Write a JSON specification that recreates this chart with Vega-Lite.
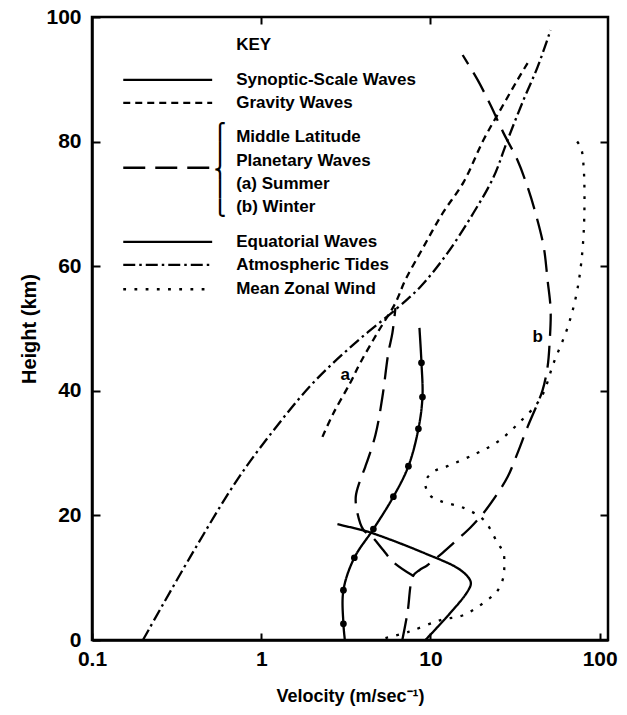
{
  "$schema": "https://vega.github.io/schema/vega-lite/v6.json",
  "width": 516,
  "height": 623,
  "autosize": "none",
  "padding": {"left": 92, "top": 17, "right": 19, "bottom": 75},
  "background": "white",
  "config": {
    "view": {"stroke": "black", "strokeWidth": 2.5},
    "font": "Liberation Sans",
    "axis": {
      "grid": false,
      "domainColor": "black",
      "domainWidth": 2.5,
      "tickColor": "black",
      "tickWidth": 2,
      "labelColor": "black",
      "titleColor": "black",
      "labelFont": "Liberation Sans",
      "labelFontWeight": "bold",
      "labelFontSize": 21,
      "titleFont": "Liberation Sans",
      "titleFontWeight": "bold",
      "titleFontSize": 18
    }
  },
  "datasets": {
    "curves": [
      {"s": "Synoptic-Scale Waves", "v": 2.82, "h": 18.6},
      {"s": "Synoptic-Scale Waves", "v": 3.85, "h": 17.7},
      {"s": "Synoptic-Scale Waves", "v": 4.48, "h": 17.2},
      {"s": "Synoptic-Scale Waves", "v": 9.1, "h": 14.0},
      {"s": "Synoptic-Scale Waves", "v": 15.1, "h": 11.2},
      {"s": "Synoptic-Scale Waves", "v": 17.3, "h": 9.3},
      {"s": "Synoptic-Scale Waves", "v": 16.5, "h": 7.7},
      {"s": "Synoptic-Scale Waves", "v": 9.34, "h": 0},

      {"s": "Gravity Waves", "v": 2.30, "h": 32.6},
      {"s": "Gravity Waves", "v": 2.67, "h": 36.4},
      {"s": "Gravity Waves", "v": 3.36, "h": 41.3},
      {"s": "Gravity Waves", "v": 3.85, "h": 44.5},
      {"s": "Gravity Waves", "v": 4.86, "h": 49.3},
      {"s": "Gravity Waves", "v": 6.21, "h": 54.1},
      {"s": "Gravity Waves", "v": 7.11, "h": 57.8},
      {"s": "Gravity Waves", "v": 9.10, "h": 63.1},
      {"s": "Gravity Waves", "v": 11.8, "h": 68.5},
      {"s": "Gravity Waves", "v": 15.7, "h": 73.5},
      {"s": "Gravity Waves", "v": 20.6, "h": 80.3},
      {"s": "Gravity Waves", "v": 25.9, "h": 85.1},
      {"s": "Gravity Waves", "v": 32.7, "h": 89.9},
      {"s": "Gravity Waves", "v": 37.5, "h": 92.6},

      {"s": "Planetary Waves (a) Summer", "v": 7.9, "h": 10.3},
      {"s": "Planetary Waves (a) Summer", "v": 6.04, "h": 12.5},
      {"s": "Planetary Waves (a) Summer", "v": 5.27, "h": 14.4},
      {"s": "Planetary Waves (a) Summer", "v": 4.54, "h": 16.5},
      {"s": "Planetary Waves (a) Summer", "v": 4.01, "h": 17.7},
      {"s": "Planetary Waves (a) Summer", "v": 3.70, "h": 20.4},
      {"s": "Planetary Waves (a) Summer", "v": 3.62, "h": 23.0},
      {"s": "Planetary Waves (a) Summer", "v": 3.85, "h": 25.7},
      {"s": "Planetary Waves (a) Summer", "v": 4.12, "h": 27.8},
      {"s": "Planetary Waves (a) Summer", "v": 4.73, "h": 32.9},
      {"s": "Planetary Waves (a) Summer", "v": 5.20, "h": 39.0},
      {"s": "Planetary Waves (a) Summer", "v": 5.64, "h": 46.1},
      {"s": "Planetary Waves (a) Summer", "v": 5.96, "h": 49.3},
      {"s": "Planetary Waves (a) Summer", "v": 6.21, "h": 53.3},

      {"s": "Planetary Waves (b) Winter", "v": 6.82, "h": 0},
      {"s": "Planetary Waves (b) Winter", "v": 7.31, "h": 4.3},
      {"s": "Planetary Waves (b) Winter", "v": 7.9, "h": 10.3},
      {"s": "Planetary Waves (b) Winter", "v": 8.6, "h": 11.2},
      {"s": "Planetary Waves (b) Winter", "v": 9.6, "h": 12.0},
      {"s": "Planetary Waves (b) Winter", "v": 11.8, "h": 14.0},
      {"s": "Planetary Waves (b) Winter", "v": 14.4, "h": 16.1},
      {"s": "Planetary Waves (b) Winter", "v": 17.3, "h": 18.1},
      {"s": "Planetary Waves (b) Winter", "v": 20.6, "h": 20.4},
      {"s": "Planetary Waves (b) Winter", "v": 24.2, "h": 23.0},
      {"s": "Planetary Waves (b) Winter", "v": 28.6, "h": 26.2},
      {"s": "Planetary Waves (b) Winter", "v": 32.7, "h": 30.0},
      {"s": "Planetary Waves (b) Winter", "v": 37.5, "h": 34.2},
      {"s": "Planetary Waves (b) Winter", "v": 43.0, "h": 38.0},
      {"s": "Planetary Waves (b) Winter", "v": 46.0, "h": 40.1},
      {"s": "Planetary Waves (b) Winter", "v": 49.2, "h": 43.8},
      {"s": "Planetary Waves (b) Winter", "v": 50.6, "h": 47.7},
      {"s": "Planetary Waves (b) Winter", "v": 51.3, "h": 53.0},
      {"s": "Planetary Waves (b) Winter", "v": 49.2, "h": 57.8},
      {"s": "Planetary Waves (b) Winter", "v": 46.7, "h": 63.1},
      {"s": "Planetary Waves (b) Winter", "v": 41.8, "h": 68.5},
      {"s": "Planetary Waves (b) Winter", "v": 37.5, "h": 72.7},
      {"s": "Planetary Waves (b) Winter", "v": 32.7, "h": 77.0},
      {"s": "Planetary Waves (b) Winter", "v": 27.0, "h": 81.4},
      {"s": "Planetary Waves (b) Winter", "v": 22.6, "h": 85.9},
      {"s": "Planetary Waves (b) Winter", "v": 19.0, "h": 89.9},
      {"s": "Planetary Waves (b) Winter", "v": 15.5, "h": 93.9},

      {"s": "Equatorial Waves", "v": 3.12, "h": 0},
      {"s": "Equatorial Waves", "v": 3.06, "h": 2.6},
      {"s": "Equatorial Waves", "v": 3.06, "h": 8.0},
      {"s": "Equatorial Waves", "v": 3.55, "h": 13.2},
      {"s": "Equatorial Waves", "v": 4.60, "h": 17.8},
      {"s": "Equatorial Waves", "v": 6.04, "h": 23.0},
      {"s": "Equatorial Waves", "v": 7.41, "h": 27.9},
      {"s": "Equatorial Waves", "v": 8.49, "h": 33.9},
      {"s": "Equatorial Waves", "v": 8.97, "h": 39.0},
      {"s": "Equatorial Waves", "v": 8.85, "h": 44.5},
      {"s": "Equatorial Waves", "v": 8.61, "h": 50.1},

      {"s": "Atmospheric Tides", "v": 0.200, "h": 0},
      {"s": "Atmospheric Tides", "v": 0.380, "h": 13.3},
      {"s": "Atmospheric Tides", "v": 0.721, "h": 25.7},
      {"s": "Atmospheric Tides", "v": 1.21, "h": 34.0},
      {"s": "Atmospheric Tides", "v": 2.03, "h": 41.3},
      {"s": "Atmospheric Tides", "v": 3.60, "h": 47.7},
      {"s": "Atmospheric Tides", "v": 6.38, "h": 53.3},
      {"s": "Atmospheric Tides", "v": 8.73, "h": 56.7},
      {"s": "Atmospheric Tides", "v": 12.6, "h": 62.1},
      {"s": "Atmospheric Tides", "v": 17.9, "h": 68.5},
      {"s": "Atmospheric Tides", "v": 23.6, "h": 74.3},
      {"s": "Atmospheric Tides", "v": 28.6, "h": 80.3},
      {"s": "Atmospheric Tides", "v": 35.5, "h": 86.7},
      {"s": "Atmospheric Tides", "v": 43.0, "h": 92.0},
      {"s": "Atmospheric Tides", "v": 51.3, "h": 97.9},

      {"s": "Mean Zonal Wind", "v": 5.42, "h": 0.3},
      {"s": "Mean Zonal Wind", "v": 7.41, "h": 1.3},
      {"s": "Mean Zonal Wind", "v": 11.5, "h": 3.2},
      {"s": "Mean Zonal Wind", "v": 15.7, "h": 4.0},
      {"s": "Mean Zonal Wind", "v": 21.4, "h": 6.3},
      {"s": "Mean Zonal Wind", "v": 24.9, "h": 7.9},
      {"s": "Mean Zonal Wind", "v": 27.0, "h": 10.1},
      {"s": "Mean Zonal Wind", "v": 27.3, "h": 12.0},
      {"s": "Mean Zonal Wind", "v": 27.0, "h": 14.0},
      {"s": "Mean Zonal Wind", "v": 24.9, "h": 15.6},
      {"s": "Mean Zonal Wind", "v": 20.6, "h": 19.3},
      {"s": "Mean Zonal Wind", "v": 15.7, "h": 21.2},
      {"s": "Mean Zonal Wind", "v": 11.5, "h": 22.3},
      {"s": "Mean Zonal Wind", "v": 9.86, "h": 23.3},
      {"s": "Mean Zonal Wind", "v": 9.34, "h": 25.4},
      {"s": "Mean Zonal Wind", "v": 10.4, "h": 27.0},
      {"s": "Mean Zonal Wind", "v": 12.6, "h": 27.9},
      {"s": "Mean Zonal Wind", "v": 18.5, "h": 29.9},
      {"s": "Mean Zonal Wind", "v": 24.9, "h": 31.8},
      {"s": "Mean Zonal Wind", "v": 33.2, "h": 34.8},
      {"s": "Mean Zonal Wind", "v": 44.8, "h": 38.8},
      {"s": "Mean Zonal Wind", "v": 53.5, "h": 44.5},
      {"s": "Mean Zonal Wind", "v": 64.7, "h": 50.2},
      {"s": "Mean Zonal Wind", "v": 74.1, "h": 56.5},
      {"s": "Mean Zonal Wind", "v": 80.4, "h": 65.3},
      {"s": "Mean Zonal Wind", "v": 80.4, "h": 75.9},
      {"s": "Mean Zonal Wind", "v": 77.2, "h": 79.1},
      {"s": "Mean Zonal Wind", "v": 70.2, "h": 80.7}
    ],
    "keyLines": [
      {"s": "Synoptic-Scale Waves", "y": 89.9},
      {"s": "Gravity Waves", "y": 86.2},
      {"s": "Planetary Waves (a) Summer", "y": 75.8},
      {"s": "Equatorial Waves", "y": 63.9},
      {"s": "Atmospheric Tides", "y": 60.2},
      {"s": "Mean Zonal Wind", "y": 56.3}
    ],
    "keyText": [
      {"t": "KEY", "y": 95.5},
      {"t": "Synoptic-Scale Waves", "y": 89.9},
      {"t": "Gravity Waves", "y": 86.2},
      {"t": "Middle Latitude", "y": 80.7},
      {"t": "Planetary Waves", "y": 76.9},
      {"t": "(a) Summer", "y": 73.2},
      {"t": "(b) Winter", "y": 69.5},
      {"t": "Equatorial Waves", "y": 63.9},
      {"t": "Atmospheric Tides", "y": 60.2},
      {"t": "Mean Zonal Wind", "y": 56.3}
    ],
    "tags": [
      {"t": "a", "v": 3.14, "h": 42.5},
      {"t": "b", "v": 43.0, "h": 48.6}
    ]
  },
  "layer": [
    {
      "data": {"name": "curves"},
      "mark": {"type": "line", "interpolate": "catmull-rom", "color": "black", "strokeWidth": 2.3},
      "encoding": {
        "x": {
          "field": "v", "type": "quantitative",
          "scale": {"type": "log", "domain": [0.1, 112], "nice": false},
          "axis": {"orient": "bottom", "values": [0.1, 1, 10, 100], "format": "~g", "tickSize": -7, "labelPadding": 15, "title": "Velocity (m/sec⁻¹)", "titlePadding": 18, "labelFlush": false, "labelOverlap": false}
        },
        "y": {
          "field": "h", "type": "quantitative",
          "scale": {"domain": [0, 100], "nice": false, "zero": false},
          "axis": {"orient": "left", "values": [0, 20, 40, 60, 80, 100], "tickSize": -8, "labelPadding": 19, "title": "Height (km)", "titleFontSize": 20, "titlePadding": 6, "labelFlush": false, "labelOverlap": false}
        },
        "strokeDash": {
          "field": "s", "type": "nominal", "legend": null,
          "scale": {
            "domain": ["Synoptic-Scale Waves", "Gravity Waves", "Planetary Waves (a) Summer", "Planetary Waves (b) Winter", "Equatorial Waves", "Atmospheric Tides", "Mean Zonal Wind"],
            "range": [[1, 0], [7, 5], [22, 10], [22, 10], [1, 0], [12, 4, 2.5, 4], [2.8, 8.4]]
          }
        },
        "order": {"field": "h", "type": "quantitative"}
      }
    },
    {
      "data": {"name": "curves"},
      "transform": [{"filter": "datum.s == 'Equatorial Waves' && datum.h > 1 && datum.h < 49"}],
      "mark": {"type": "point", "filled": true, "color": "black", "size": 45, "opacity": 1},
      "encoding": {
        "x": {"field": "v", "type": "quantitative", "axis": null},
        "y": {"field": "h", "type": "quantitative", "axis": null}
      }
    },
    {
      "data": {"name": "keyLines"},
      "mark": {"type": "rule", "color": "black", "strokeWidth": 2.3},
      "encoding": {
        "x": {"datum": 0.153, "type": "quantitative", "axis": null},
        "x2": {"datum": 0.513},
        "y": {"field": "y", "type": "quantitative", "axis": null},
        "strokeDash": {"field": "s", "type": "nominal", "legend": null}
      }
    },
    {
      "data": {"name": "keyText"},
      "mark": {"type": "text", "align": "left", "baseline": "middle", "font": "Liberation Sans", "fontWeight": "bold", "fontSize": 17, "color": "black"},
      "encoding": {
        "x": {"datum": 0.711, "type": "quantitative", "axis": null},
        "y": {"field": "y", "type": "quantitative", "axis": null},
        "text": {"field": "t"}
      }
    },
    {
      "data": {"values": [{"y": 81.5}]},
      "mark": {"type": "text", "align": "center", "baseline": "middle", "font": "DejaVu Sans", "fontWeight": "bold", "fontSize": 16, "lineHeight": 19, "color": "black", "text": ["⎧", "⎪", "⎨", "⎪", "⎩"]},
      "encoding": {
        "x": {"datum": 0.571, "type": "quantitative", "axis": null},
        "y": {"field": "y", "type": "quantitative", "axis": null}
      }
    },
    {
      "data": {"name": "tags"},
      "mark": {"type": "text", "align": "center", "baseline": "middle", "font": "Liberation Sans", "fontWeight": "bold", "fontSize": 17, "color": "black"},
      "encoding": {
        "x": {"field": "v", "type": "quantitative", "axis": {"orient": "top", "values": [1, 10], "tickSize": -7, "labels": false, "title": null, "domain": false}},
        "y": {"field": "h", "type": "quantitative", "axis": {"orient": "right", "values": [20, 40, 60, 80], "tickSize": -8, "labels": false, "title": null, "domain": false}},
        "text": {"field": "t"}
      }
    }
  ],
  "resolve": {"axis": {"x": "independent", "y": "independent"}}
}
